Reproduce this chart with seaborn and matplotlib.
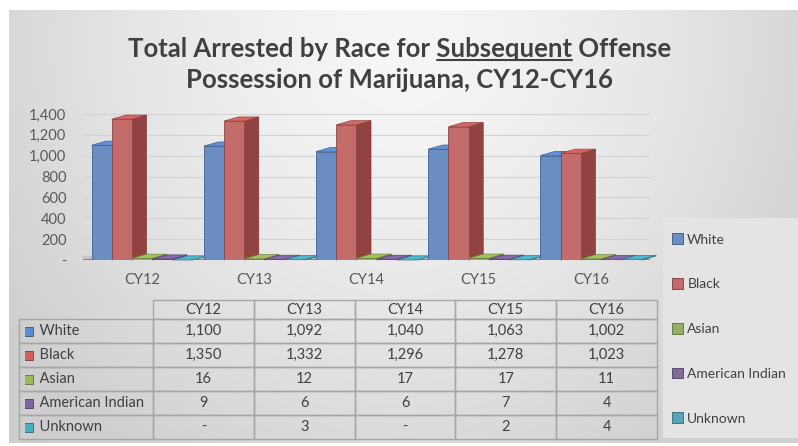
import numpy as np
import pandas as pd
import seaborn as sns
import matplotlib.pyplot as plt
from matplotlib.patches import Polygon, Rectangle
from matplotlib.colors import to_rgb

# data
years = ['CY12', 'CY13', 'CY14', 'CY15', 'CY16']
races = ['White', 'Black', 'Asian', 'American Indian', 'Unknown']
white = [1100, 1092, 1040, 1063, 1002]
black = [1350, 1332, 1296, 1278, 1023]
asian = [16, 12, 17, 17, 11]
american_indian = [9, 6, 6, 7, 4]
unknown = [0, 3, 0, 2, 4]
colors = ['#5b8bd0', '#d05f5d', '#9bbb59', '#8064a2', '#4bacc6']

series = [white, black, asian, american_indian, unknown]
df = pd.DataFrame({
    'year': years * len(races),
    'race': np.repeat(races, len(years)),
    'total': sum(series, []),
})

W, H = 798, 446
sns.set_theme(style='white')
plt.rcParams['font.family'] = ['Lato', 'DejaVu Sans']
fig = plt.figure(figsize=(W / 100, H / 100), dpi=100)

# gray gradient background with a thin white margin
bg = fig.add_axes([0, 0, 1, 1], zorder=-10)
yy, xx = np.mgrid[0:H, 0:W]
r = np.sqrt(((xx - 400) / 420) ** 2 + ((yy - 40) / 450) ** 2)
shade = 0.965 - 0.13 * np.clip(r, 0, 1.12) ** 1.5
shade[(xx < 9) | (yy < 10) | (yy > 442)] = 1.0
bg.imshow(np.dstack([shade] * 3), extent=(0, W, H, 0), aspect='auto')
bg.set_xlim(0, W)
bg.set_ylim(H, 0)
bg.axis('off')

# title
title_kw = dict(ha='center', va='center', fontsize=18.5, fontweight='bold', color='#404040')
line1 = 'Total Arrested by Race for Subsequent Offense'
t1 = fig.text(400 / W, 1 - 49 / H, line1, **title_kw)
fig.text(400 / W, 1 - 80 / H, 'Possession of Marijuana, CY12-CY16', **title_kw)

# bars
ax = fig.add_axes([83 / W, 1 - 260 / H, (650 - 83) / W, (260 - 114) / H])
ax.patch.set_alpha(0)
sns.barplot(data=df, x='year', y='total', hue='race', palette=colors,
            width=0.9, ax=ax)
handles, labels = ax.get_legend_handles_labels()
ax.get_legend().remove()

dx, dy = 0.13, 40
bars = []
for c, cont in enumerate(ax.containers):
    for bar in cont:
        bars.append((bar.get_x(), bar, colors[c]))
bars.sort(key=lambda t: t[0])
for k, (x0, bar, col) in enumerate(bars):
    z = 3 + k
    w, h = bar.get_width(), bar.get_height()
    rgb = np.array(to_rgb(col))
    bar.set_zorder(z)
    bar.set_edgecolor(rgb * 0.7)
    bar.set_linewidth(0.6)
    ax.add_patch(Polygon([(x0 + w, 0), (x0 + w + dx, dy), (x0 + w + dx, h + dy), (x0 + w, h)],
                         fc=rgb * 0.7, ec=rgb * 0.6, lw=0.5, zorder=z - 0.5, clip_on=False))
    ax.add_patch(Polygon([(x0, h), (x0 + dx, h + dy), (x0 + w + dx, h + dy), (x0 + w, h)],
                         fc=np.minimum(rgb * 1.05, 1), ec=rgb * 0.7, lw=0.5, zorder=z - 0.5, clip_on=False))

ax.axhspan(0, dy, color='#c4c4c4', zorder=1)
ax.axhline(0, color='#7f7f7f', lw=2, zorder=2)
ax.set_ylim(0, 1400)
ax.set_xlim(-0.526, 4.526)
ax.set_yticks(range(0, 1401, 200))
ax.yaxis.set_major_formatter(lambda v, p: f'{int(v):,}' if v else '-')
ax.yaxis.grid(True, color='#d2d2d2', lw=0.8)
ax.set_axisbelow(True)
ax.tick_params(axis='y', length=0, labelsize=10.5, labelcolor='#595959', pad=12)
ax.tick_params(axis='x', length=0, labelsize=10.5, labelcolor='#595959', pad=9)
ax.set_xlabel('')
ax.set_ylabel('')
sns.despine(ax=ax, left=True, bottom=True)

# data table (bbox covers the year columns; row labels hang to the left)
tax = fig.add_axes([25 / W, 1 - 439 / H, (657 - 25) / W, (439 - 300) / H])
tax.axis('off')
cell_text = [[f'{v:,}' if v else '-' for v in s] for s in series]
tbl = tax.table(cellText=cell_text, rowLabels=['  ' + r for r in races], colLabels=years,
                bbox=[128 / 632, 0, 504 / 632, 1], cellLoc='center', rowLoc='left')
tbl.auto_set_font_size(False)
for (row, col), cell in tbl.get_celld().items():
    cell.set_facecolor('none')
    cell.set_edgecolor('#a6a6a6')
    cell.set_linewidth(1)
    cell.set_height(19 if row == 0 else 24)
    cell.set_width(128 if col == -1 else 100.8)
    cell.get_text().set_fontsize(10.5)
    cell.get_text().set_color('#404040')

fig.canvas.draw()
renderer = fig.canvas.get_renderer()

# underline "Subsequent"
def text_w(s):
    t = fig.text(0, 0, s, fontsize=18.5, fontweight='bold')
    wpx = t.get_window_extent(renderer).width
    t.remove()
    return wpx

bb = t1.get_window_extent(renderer)
w_a = text_w('Total Arrested by Race for Subsequent')
w_b = text_w('Subsequent')
ux0 = bb.x0 + w_a - w_b
ux1 = bb.x0 + w_a
uy = bb.y0 + 1
fig.add_artist(plt.Line2D([ux0 / W, ux1 / W], [uy / H, uy / H], transform=fig.transFigure,
                          color='#404040', lw=1.5))

# colour keys in the table's row labels
for i, col in enumerate(colors):
    cell = tbl[i + 1, -1]
    x, y, h = cell.get_x(), cell.get_y(), cell.get_height()
    rgb = np.array(to_rgb(col))
    tax.add_patch(Rectangle((x + 5 / 632, y + h / 2 - 4.5 / 139), 9 / 632, 9 / 139,
                            transform=tax.transAxes, fc=col, ec=rgb * 0.6, lw=0.6))

# legend panel
fig.add_artist(Rectangle((663 / W, 1 - 438 / H), (798 - 663) / W, (438 - 218) / H,
                         transform=fig.transFigure, fc='#e4e4e4', ec='none', zorder=1))
leg = fig.legend(handles, labels, loc='center left', bbox_to_anchor=(672 / W, 1 - 329 / H),
                 frameon=False, fontsize=10, labelspacing=2.35, handlelength=0.8,
                 handleheight=0.8, handletextpad=0.3, labelcolor='#404040',
                 borderaxespad=0, borderpad=0)
leg.set_zorder(2)
for hnd, col in zip(leg.legend_handles, colors):
    hnd.set_edgecolor(np.array(to_rgb(col)) * 0.6)
    hnd.set_linewidth(0.6)

fig.savefig('out.png', dpi=100)
